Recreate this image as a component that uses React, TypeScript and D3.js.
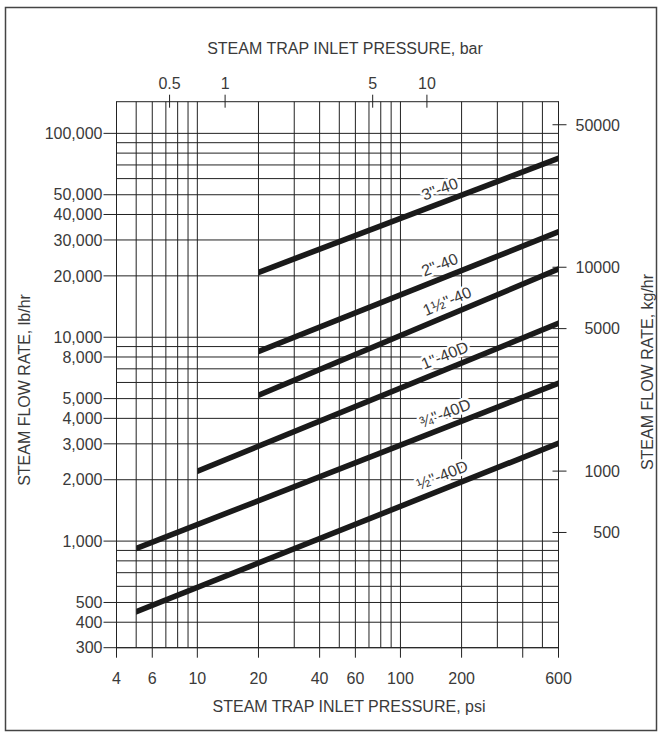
import React from "react";
import * as d3 from "d3";

// ---- data ----
const seriesNames = ['3"-40', '2"-40', '1½"-40', '1"-40D', '¾"-40D', '½"-40D'];
const startPsi = [20, 20, 20, 10, 5, 5];
const endPsi = [600, 600, 600, 600, 600, 600];
const startFlow = [20800, 8500, 5200, 2200, 920, 450];
const endFlow = [75400, 32900, 21600, 11700, 5940, 3020];
const labelPsi = [165, 165, 180, 175, 175, 170];

const psiGrid = [4, 5, 6, 7, 8, 9, 10, 20, 30, 40, 50, 60, 70, 80, 90, 100, 200, 300, 400, 500, 600];
const psiTickMarks = [4, 6, 10, 20, 40, 60, 100, 200, 400, 600];
const psiTickLabels = [4, 6, 10, 20, 40, 60, 100, 200, 600];

const flowGrid = [300, 400, 500, 600, 700, 800, 900, 1000, 2000, 3000, 4000, 5000, 6000, 7000, 8000, 9000,
  10000, 20000, 30000, 40000, 50000, 60000, 70000, 80000, 90000, 100000];
const lbTicks = [300, 400, 500, 1000, 2000, 3000, 4000, 5000, 8000, 10000, 20000, 30000, 40000, 50000, 100000];
const kgTicks = [500, 1000, 5000, 10000, 50000];
const LB_PER_KG = 2.20462;

const barTicks = [0.5, 1, 5, 10];
const barTickPsi = [7.3, 13.7, 73, 135];

// ---- layout ----
const W = 662, H = 738;
const L = 116.5, R = 558.5, T = 101.7, B = 647.7;
const FONT = "'Liberation Sans', Arial, Helvetica, sans-serif";
const TXT = "#3a3a3a";

export default function App() {
  const x = d3.scaleLog().domain([4, 600]).range([L, R]);
  const y = d3.scaleLog().domain([300, 143000]).range([B, T]);
  const fmt = d3.format(",");

  const band = d3.area<[number, number]>()
    .x((d) => x(d[0]))
    .y0((d) => y(d[1]) - 3)
    .y1((d) => y(d[1]) + 3);

  const flowAt = (i: number, p: number) => {
    const t = (Math.log(p) - Math.log(startPsi[i])) / (Math.log(endPsi[i]) - Math.log(startPsi[i]));
    return Math.exp(Math.log(startFlow[i]) + t * (Math.log(endFlow[i]) - Math.log(startFlow[i])));
  };

  return (
    <svg width={W} height={H} style={{ position: "absolute", left: 0, top: 0, background: "#fff" }}
      fontFamily={FONT}>
      <rect x={0} y={0} width={W} height={H} fill="#fff" />
      <rect x={5.5} y={7.5} width={651} height={723} fill="none" stroke="#444" strokeWidth={1.5} />

      {/* grid */}
      {psiGrid.map((v) => (
        <line key={"gx" + v} x1={x(v)} x2={x(v)} y1={T} y2={B} stroke="#222" strokeWidth={1} />
      ))}
      {flowGrid.map((v) => (
        <line key={"gy" + v} x1={L} x2={R} y1={y(v)} y2={y(v)} stroke="#222" strokeWidth={1} />
      ))}
      <rect x={L} y={T} width={R - L} height={B - T} fill="none" stroke="#222" strokeWidth={1} />

      {/* bottom axis */}
      {psiTickMarks.map((v) => (
        <line key={"bt" + v} x1={x(v)} x2={x(v)} y1={B} y2={B + 10} stroke="#222" strokeWidth={1} />
      ))}
      {psiTickLabels.map((v) => (
        <text key={"bl" + v} x={x(v)} y={684} textAnchor="middle" fontSize={16} fill={TXT}>{v}</text>
      ))}
      <text x={349} y={712} textAnchor="middle" fontSize={16} fill={TXT}>STEAM TRAP INLET PRESSURE, psi</text>

      {/* top axis (bar) */}
      {barTicks.map((v, i) => (
        <g key={"tb" + v}>
          <line x1={x(barTickPsi[i])} x2={x(barTickPsi[i])} y1={T - 7} y2={T + 6} stroke="#222" strokeWidth={1} />
          <text x={x(barTickPsi[i])} y={89} textAnchor="middle" fontSize={16} fill={TXT}>{v}</text>
        </g>
      ))}
      <text x={345} y={54} textAnchor="middle" fontSize={16} fill={TXT}>STEAM TRAP INLET PRESSURE, bar</text>

      {/* left axis */}
      {lbTicks.map((v) => (
        <g key={"lt" + v}>
          <line x1={L - 13} x2={L} y1={y(v)} y2={y(v)} stroke="#222" strokeWidth={1} />
          <text x={L - 14} y={y(v)} dy="0.36em" textAnchor="end" fontSize={16} fill={TXT}>{fmt(v)}</text>
        </g>
      ))}
      <text transform={`translate(30,390) rotate(-90)`} textAnchor="middle" fontSize={16} fill={TXT}>
        STEAM FLOW RATE, lb/hr
      </text>

      {/* right axis (kg/hr) */}
      {kgTicks.map((v) => (
        <g key={"rt" + v}>
          <line x1={R - 6} x2={R + 8} y1={y(v * LB_PER_KG)} y2={y(v * LB_PER_KG)} stroke="#222" strokeWidth={1} />
          <text x={620} y={y(v * LB_PER_KG)} dy="0.36em" textAnchor="end" fontSize={16} fill={TXT}>{v}</text>
        </g>
      ))}
      <text transform={`translate(653,372) rotate(-90)`} textAnchor="middle" fontSize={16} fill={TXT}>
        STEAM FLOW RATE, kg/hr
      </text>

      {/* flow lines */}
      {seriesNames.map((name, i) => (
        <path key={"s" + i}
          d={band([[startPsi[i], startFlow[i]], [endPsi[i], endFlow[i]]]) || ""}
          fill="#1a1a1a" />
      ))}

      {/* line labels */}
      {seriesNames.map((name, i) => {
        const ang = (Math.atan2(y(endFlow[i]) - y(startFlow[i]), x(endPsi[i]) - x(startPsi[i])) * 180) / Math.PI;
        const px = x(labelPsi[i]);
        const py = y(flowAt(i, labelPsi[i]));
        return (
          <text key={"lab" + i} transform={`translate(${px},${py}) rotate(${ang})`} dy={-8}
            textAnchor="middle" fontSize={16} fill={TXT} stroke="#fff" strokeWidth={5}
            strokeLinejoin="round" style={{ paintOrder: "stroke" }}>
            {name}
          </text>
        );
      })}
    </svg>
  );
}
